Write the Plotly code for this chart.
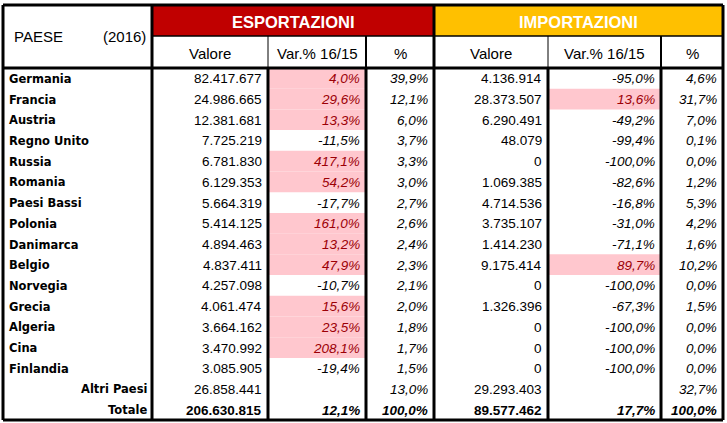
import plotly.graph_objects as go

countries = ["Germania", "Francia", "Austria", "Regno Unito", "Russia", "Romania",
             "Paesi Bassi", "Polonia", "Danimarca", "Belgio", "Norvegia", "Grecia",
             "Algeria", "Cina", "Finlandia", "Altri Paesi", "Totale"]
exp_val = [82417677, 24986665, 12381681, 7725219, 6781830, 6129353, 5664319, 5414125,
           4894463, 4837411, 4257098, 4061474, 3664162, 3470992, 3085905, 26858441, 206630815]
exp_var = [4.0, 29.6, 13.3, -11.5, 417.1, 54.2, -17.7, 161.0, 13.2, 47.9, -10.7, 15.6,
           23.5, 208.1, -19.4, None, 12.1]
exp_pct = [39.9, 12.1, 6.0, 3.7, 3.3, 3.0, 2.7, 2.6, 2.4, 2.3, 2.1, 2.0, 1.8, 1.7, 1.5, 13.0, 100.0]
imp_val = [4136914, 28373507, 6290491, 48079, 0, 1069385, 4714536, 3735107, 1414230,
           9175414, 0, 1326396, 0, 0, 0, 29293403, 89577462]
imp_var = [-95.0, 13.6, -49.2, -99.4, -100.0, -82.6, -16.8, -31.0, -71.1, 89.7, -100.0,
           -67.3, -100.0, -100.0, -100.0, None, 17.7]
imp_pct = [4.6, 31.7, 7.0, 0.1, 0.0, 1.2, 5.3, 4.2, 1.6, 10.2, 0.0, 1.5, 0.0, 0.0, 0.0, 32.7, 100.0]

group_titles = ["ESPORTAZIONI", "IMPORTAZIONI"]
sub_headers = ["Valore", "Var.% 16/15", "%"]
corner_left, corner_right = "PAESE", "(2016)"

W, H = 727, 423
col = [3, 152, 268, 366, 434, 548, 661, 723]
y_top, y_mid, y_head = 5, 36, 68
y_bot = 420
n = len(countries)
rh = (y_bot - y_head) / n

FONT = "Liberation Sans, Arial, sans-serif"
NAMEF = "DejaVu Sans, Verdana, sans-serif"
PINK, PINKTXT = "#FFC7CE", "#9C0006"
RED, YEL = "#C00000", "#FFC000"


def fmt_int(v):
    return f"{v:,}".replace(",", ".")


def fmt_pct(v):
    return f"{v:.1f}".replace(".", ",") + "%"


shapes, ann = [], []


def rect(x0, y0, x1, y1, fill):
    shapes.append(dict(type="rect", xref="x", yref="y", x0=x0, y0=y0, x1=x1, y1=y1,
                       fillcolor=fill, line=dict(width=0), layer="below"))


def line(x0, y0, x1, y1, w):
    shapes.append(dict(type="line", xref="x", yref="y", x0=x0, y0=y0, x1=x1, y1=y1,
                       line=dict(color="black", width=w)))


def text(x, y, s, anchor, size=13.5, color="black", family=FONT):
    ann.append(dict(x=x, y=y, xref="x", yref="y", text=s, showarrow=False,
                    xanchor=anchor, yanchor="middle",
                    font=dict(family=family, size=size, color=color)))


# header fills
rect(col[1], y_top, col[4], y_mid, RED)
rect(col[4], y_top, col[7], y_mid, YEL)

# pink cells
for i in range(n - 2):
    y0 = y_head + i * rh
    if exp_var[i] is not None and exp_var[i] > 0:
        rect(col[2] + 1, y0, col[3] - 1, y0 + rh, PINK)
    if imp_var[i] is not None and imp_var[i] > 0:
        rect(col[5] + 1, y0, col[6] - 1, y0 + rh, PINK)

# header texts
text((col[1] + col[4]) / 2, (y_top + y_mid) / 2 + 1, "<b>" + group_titles[0] + "</b>", "center", 16.5, "white")
text((col[4] + col[7]) / 2, (y_top + y_mid) / 2 + 1, "<b>" + group_titles[1] + "</b>", "center", 16.5, "white")
text(12, (y_top + y_head) / 2, corner_left, "left", 15)
text(148, (y_top + y_head) / 2, corner_right, "right", 15)
for g in range(2):
    for k in range(3):
        c = 1 + g * 3 + k
        text((col[c] + col[c + 1]) / 2, (y_mid + y_head) / 2 + 1, sub_headers[k], "center", 15)

# data
for i in range(n):
    yc = y_head + (i + 0.5) * rh + 0.5
    total = i == n - 1
    b0, b1 = ("<b>", "</b>") if total else ("", "")
    if i < n - 2:
        text(7, yc, "<b>" + countries[i] + "</b>", "left", 11.5, family=NAMEF)
    else:
        text(col[1] - 3, yc, "<b>" + countries[i] + "</b>", "right", 11.5, family=NAMEF)
    for g, (vals, vars_, pcts) in enumerate([(exp_val, exp_var, exp_pct), (imp_val, imp_var, imp_pct)]):
        c = 1 + g * 3
        text(col[c + 1] - 4, yc, b0 + fmt_int(vals[i]) + b1, "right")
        if vars_[i] is not None:
            pink = (not total) and vars_[i] > 0
            text(col[c + 2] - 4, yc, b0 + "<i>" + fmt_pct(vars_[i]) + "</i>" + b1, "right",
                 color=PINKTXT if pink else "black")
        text(col[c + 3] - 4, yc, b0 + "<i>" + fmt_pct(pcts[i]) + "</i>" + b1, "right")

# borders
line(col[0], y_top, col[7], y_top, 3)
line(col[0], y_bot, col[7], y_bot, 3)
line(col[0], y_head, col[7], y_head, 3)
line(col[1], y_mid, col[7], y_mid, 1.5)
for x in (col[0], col[1], col[4], col[7]):
    line(x, y_top, x, y_bot, 3)
for idx in (2, 5):
    line(col[idx], y_mid, col[idx], y_head, 1)
    line(col[idx], y_head, col[idx], y_bot, 3)
for idx in (3, 6):
    line(col[idx], y_mid, col[idx], y_head, 2)
    line(col[idx], y_head, col[idx], y_bot, 3)

fig = go.Figure()
fig.update_layout(
    width=W, height=H, margin=dict(l=0, r=0, t=0, b=0),
    paper_bgcolor="white", plot_bgcolor="white",
    xaxis=dict(range=[0, W], visible=False, fixedrange=True),
    yaxis=dict(range=[H, 0], visible=False, fixedrange=True),
    shapes=shapes, annotations=ann, showlegend=False,
)
fig.write_html(
    "out.html",
    config={"displayModeBar": False},
    post_script="document.body.style.margin='0px';document.body.style.overflow='hidden';",
)
